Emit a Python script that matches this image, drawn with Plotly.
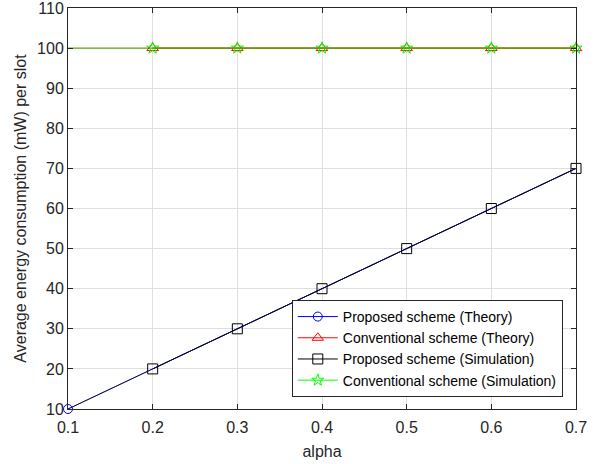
import plotly.graph_objects as go

# Data
alpha_theory = [0.1, 0.2, 0.3, 0.4, 0.5, 0.6, 0.7]
proposed_theory = [10, 20, 30, 40, 50, 60, 70]
conventional_theory = [100, 100, 100, 100, 100, 100, 100]

alpha_sim = [0.1, 0.2, 0.3, 0.4, 0.5, 0.6, 0.7]
proposed_sim = [10, 20, 30, 40, 50, 60, 70]
conventional_sim = [100, 100, 100, 100, 100, 100, 100]

x_ticks = [0.1, 0.2, 0.3, 0.4, 0.5, 0.6, 0.7]
y_ticks = [10, 20, 30, 40, 50, 60, 70, 80, 90, 100, 110]

names = ["Proposed scheme (Theory)", "Conventional scheme (Theory)",
         "Proposed scheme (Simulation)", "Conventional scheme (Simulation)"]

BLUE, RED, BLACK, GREEN = "#0000ff", "#ff0000", "#000000", "#00ff00"
FONT = "Liberation Sans, Arial, sans-serif"
AX = "#262626"

fig = go.Figure()

def line_only(x, y, color, opacity=1.0):
    return go.Scatter(x=x, y=y, mode="lines", line=dict(color=color, width=1),
                      opacity=opacity, showlegend=False, hoverinfo="skip", cliponaxis=False)

# underlying full lines of simulation curves
fig.add_trace(line_only(alpha_sim, conventional_sim, GREEN))
fig.add_trace(line_only(alpha_sim, proposed_sim, BLACK))

# legend / marker traces
fig.add_trace(go.Scatter(x=alpha_theory[:1], y=proposed_theory[:1], mode="lines+markers",
                         name=names[0], line=dict(color=BLUE, width=1), cliponaxis=False,
                         marker=dict(symbol="circle-open", size=9, color=BLUE, line=dict(width=1))))
fig.add_trace(go.Scatter(x=alpha_theory[1:], y=conventional_theory[1:], mode="lines+markers",
                         name=names[1], line=dict(color=RED, width=1), cliponaxis=False,
                         marker=dict(symbol="triangle-up-open", size=10, color=RED, line=dict(width=1))))
fig.add_trace(go.Scatter(x=alpha_sim[1:], y=proposed_sim[1:], mode="lines+markers",
                         name=names[2], line=dict(color=BLACK, width=1), cliponaxis=False,
                         marker=dict(symbol="square-open", size=10, color=BLACK, line=dict(width=1))))
fig.add_trace(go.Scatter(x=alpha_sim[1:], y=conventional_sim[1:], mode="lines+markers",
                         name=names[3], line=dict(color=GREEN, width=1), cliponaxis=False,
                         marker=dict(symbol="star-open", size=9, color=GREEN, line=dict(width=1))))

# theory lines blended on top
fig.add_trace(line_only(alpha_theory, conventional_theory, RED, 0.4))
fig.add_trace(line_only(alpha_theory, proposed_theory, BLUE, 0.4))

axis_common = dict(
    showline=True, linecolor=AX, linewidth=1, mirror="ticks",
    ticks="inside", ticklen=5, tickcolor=AX,
    showgrid=True, gridcolor="#dfdfdf", gridwidth=1,
    zeroline=False, tickfont=dict(family=FONT, size=16, color=AX),
    ticklabeloverflow="allow",
)

fig.update_xaxes(range=[0.1, 0.7], tickvals=x_ticks, ticktext=[f"{v:.1f}" for v in x_ticks],
                 ticklabelstandoff=4,
                 title=dict(text="alpha", font=dict(family=FONT, size=16, color=AX), standoff=10),
                 **axis_common)
fig.update_yaxes(range=[10, 110], tickvals=y_ticks, ticktext=[str(v) for v in y_ticks],
                 title=dict(text="Average energy consumption (mW) per slot",
                            font=dict(family=FONT, size=16, color=AX), standoff=6),
                 **axis_common)

fig.update_layout(
    width=605, height=464,
    margin=dict(l=68, r=29, t=8, b=55, autoexpand=False),
    plot_bgcolor="white", paper_bgcolor="white",
    font=dict(family=FONT, size=14, color=AX),
    legend=dict(x=0.974, y=0.03, xanchor="right", yanchor="bottom",
                bgcolor="white", bordercolor=AX, borderwidth=1,
                font=dict(family=FONT, size=14, color="#000000"),
                itemwidth=40, tracegroupgap=0),
    showlegend=True,
)

fig.write_html("out.html", config={"displayModeBar": False},
               post_script="document.body.style.margin='0px';")
